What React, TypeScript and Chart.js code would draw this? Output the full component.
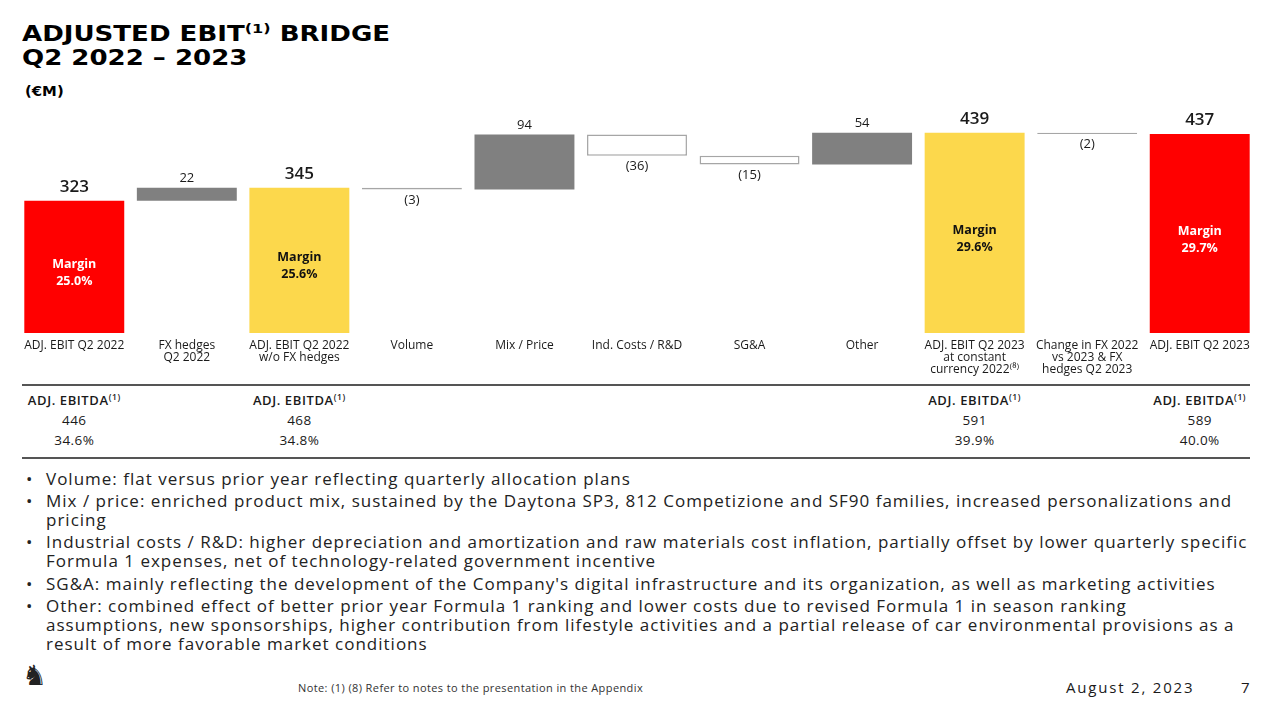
import React, { useEffect, useRef } from "react";
import { Chart, registerables } from "chart.js";

Chart.register(...registerables);

// ---------- data ----------
const categories: string[][] = [
  ["ADJ. EBIT Q2 2022"],
  ["FX hedges", "Q2 2022"],
  ["ADJ. EBIT Q2 2022", "w/o FX hedges"],
  ["Volume"],
  ["Mix / Price"],
  ["Ind. Costs / R&D"],
  ["SG&A"],
  ["Other"],
  ["ADJ. EBIT Q2 2023", "at constant", "currency 2022⁽⁸⁾"],
  ["Change in FX 2022", "vs 2023 & FX", "hedges Q2 2023"],
  ["ADJ. EBIT Q2 2023"],
];
const values = [323, 22, 345, -3, 94, -36, -15, 54, 439, -2, 437];
const kinds = ["total", "delta", "total", "delta", "delta", "delta", "delta", "delta", "total", "delta", "total"];
const totalFills = ["#FF0000", "", "#FCD84C", "", "", "", "", "", "#FCD84C", "", "#FF0000"];
const margins = ["25.0%", "", "25.6%", "", "", "", "", "", "29.6%", "", "29.7%"];

const ebitdaCols = [0, 2, 8, 10];
const ebitdaValues = ["446", "468", "591", "589"];
const ebitdaMargins = ["34.6%", "34.8%", "39.9%", "40.0%"];

const bullets: string[][] = [
  ["Volume: flat versus prior year reflecting quarterly allocation plans"],
  [
    "Mix / price: enriched product mix, sustained by the Daytona SP3, 812 Competizione and SF90 families, increased personalizations and",
    "pricing",
  ],
  [
    "Industrial costs / R&D: higher depreciation and amortization and raw materials cost inflation, partially offset by lower quarterly specific",
    "Formula 1 expenses, net of technology-related government incentive",
  ],
  ["SG&A: mainly reflecting the development of the Company's digital infrastructure and its organization, as well as marketing activities"],
  [
    "Other: combined effect of better prior year Formula 1 ranking and lower costs due to revised Formula 1 in season ranking",
    "assumptions, new sponsorships, higher contribution from lifestyle activities and a partial release of car environmental provisions as a",
    "result of more favorable market conditions",
  ],
];

const Y_MIN = 97;
const Y_MAX = 478;

const FONT = "'Open Sans', 'DejaVu Sans', sans-serif";
const TITLE_FONT = "'DejaVu Sans', sans-serif";

// geometry of the chart canvas (layout only)
const CANVAS_TOP = 100;
const CANVAS_H = 285;
const PAD_X = 18;
const X_AXIS_H = 52;

export default function App() {
  const canvasRef = useRef<HTMLCanvasElement | null>(null);

  useEffect(() => {
    const canvas = canvasRef.current;
    if (!canvas) return;

    let run = 0;
    const floating: [number, number][] = values.map((v, i) => {
      if (kinds[i] === "total") {
        run = v;
        return [0, v];
      }
      const start = run;
      run = run + v;
      return [start, run];
    });

    const bg = values.map((v, i) =>
      kinds[i] === "total" ? totalFills[i] : v >= 0 ? "#808080" : "#FFFFFF"
    );
    const border = values.map((v, i) =>
      kinds[i] === "total" ? totalFills[i] : v >= 0 ? "#808080" : "#A6A6A6"
    );
    const bw = values.map((v, i) => (kinds[i] === "delta" && v < 0 ? 1.5 : 0));

    const labelPlugin = {
      id: "wfLabels",
      afterDatasetsDraw(chart: any) {
        const ctx = chart.ctx as CanvasRenderingContext2D;
        const area = chart.chartArea;
        const meta = chart.getDatasetMeta(0);
        meta.data.forEach((bar: any, i: number) => {
          const p = bar.getProps(["x", "y", "base"], true);
          const top = Math.min(p.y, p.base);
          const bottom = Math.max(p.y, p.base);
          const v = values[i];
          ctx.save();
          ctx.textAlign = "center";
          if (kinds[i] === "total") {
            ctx.fillStyle = "#1a1a1a";
            ctx.font = `600 17px ${FONT}`;
            ctx.textBaseline = "bottom";
            ctx.fillText(String(v), p.x, top - 5);
            const visBottom = Math.min(bottom, area.bottom);
            const mid = (top + visBottom) / 2 + 6;
            const onRed = totalFills[i] === "#FF0000";
            ctx.fillStyle = onRed ? "#FFFFFF" : "#111111";
            ctx.font = `bold 12.5px ${FONT}`;
            ctx.textBaseline = "middle";
            ctx.fillText("Margin", p.x, mid - 8.5);
            ctx.fillText(margins[i], p.x, mid + 8.5);
          } else {
            ctx.fillStyle = "#1a1a1a";
            ctx.font = `13px ${FONT}`;
            if (v >= 0) {
              ctx.textBaseline = "bottom";
              ctx.fillText(String(v), p.x, top - 3);
            } else {
              ctx.textBaseline = "top";
              ctx.fillText(`(${-v})`, p.x, bottom + 4);
            }
          }
          ctx.restore();
        });
      },
    };

    const chart = new Chart(canvas, {
      type: "bar",
      data: {
        labels: categories,
        datasets: [
          {
            data: floating as any,
            backgroundColor: bg,
            borderColor: border,
            borderWidth: bw,
            borderSkipped: false,
            barPercentage: 0.888,
            categoryPercentage: 1,
            clip: 0 as any,
          },
        ],
      },
      options: {
        responsive: false,
        maintainAspectRatio: false,
        animation: false,
        layout: { padding: { left: PAD_X, right: PAD_X, top: 10, bottom: 0 } },
        plugins: {
          legend: { display: false },
          tooltip: { enabled: false },
          title: { display: false },
        },
        scales: {
          x: {
            grid: { display: false, drawTicks: false },
            border: { display: false },
            ticks: {
              color: "#1a1a1a",
              font: { family: FONT, size: 12, lineHeight: 1.0 },
              padding: 7,
              maxRotation: 0,
              autoSkip: false,
            },
            afterFit: (scale: any) => {
              scale.height = X_AXIS_H;
            },
          },
          y: {
            display: false,
            min: Y_MIN,
            max: Y_MAX,
          },
        },
      },
      plugins: [labelPlugin],
    });

    return () => chart.destroy();
  }, []);

  // bar centres for the EBITDA table (match chart slots)
  const slot = (1274 - 2 * PAD_X) / categories.length;
  const centre = (i: number) => PAD_X + slot * (i + 0.5);

  return (
    <div
      style={{
        position: "absolute",
        left: 0,
        top: 0,
        width: 1274,
        height: 716,
        background: "#ffffff",
        overflow: "hidden",
        fontFamily: FONT,
        color: "#1a1a1a",
      }}
    >
      <div
        style={{
          position: "absolute",
          left: 22,
          top: 22,
          fontFamily: TITLE_FONT,
          fontWeight: "bold",
          fontSize: 21,
          lineHeight: "24px",
          color: "#000",
          transform: "scaleX(1.24)",
          transformOrigin: "left top",
          whiteSpace: "nowrap",
        }}
      >
        <div>
          ADJUSTED EBIT<sup style={{ fontSize: 13, verticalAlign: "8px", lineHeight: 0 }}>(1)</sup> BRIDGE
        </div>
        <div>Q2 2022 – 2023</div>
      </div>
      <div
        style={{
          position: "absolute",
          left: 25,
          top: 83,
          fontFamily: TITLE_FONT,
          fontWeight: "bold",
          fontSize: 13.5,
          color: "#000",
          transform: "scaleX(1.1)",
          transformOrigin: "left top",
        }}
      >
        (€M)
      </div>

      <canvas
        ref={canvasRef}
        width={1274}
        height={CANVAS_H}
        style={{ position: "absolute", left: 0, top: CANVAS_TOP, width: 1274, height: CANVAS_H }}
      />

      {/* EBITDA table */}
      <div style={{ position: "absolute", left: 22, top: 384, width: 1228, height: 2, background: "#555" }} />
      <div style={{ position: "absolute", left: 22, top: 457, width: 1228, height: 2, background: "#555" }} />
      {ebitdaCols.map((c, k) => (
        <div
          key={c}
          style={{
            position: "absolute",
            left: centre(c) - 60,
            width: 120,
            top: 390,
            textAlign: "center",
            fontSize: 13.5,
          }}
        >
          <div style={{ fontWeight: 600, fontSize: 13, lineHeight: "20px", letterSpacing: 0.6 }}>
            ADJ. EBITDA<sup style={{ fontSize: 8.5, verticalAlign: "5px", lineHeight: 0 }}>(1)</sup>
          </div>
          <div style={{ lineHeight: "20px", letterSpacing: 0.4 }}>{ebitdaValues[k]}</div>
          <div style={{ lineHeight: "20px", letterSpacing: 0.4 }}>{ebitdaMargins[k]}</div>
        </div>
      ))}

      {/* bullets */}
      <div style={{ position: "absolute", left: 26, top: 469, fontSize: 17, letterSpacing: 1.0, color: "#222" }}>
        {bullets.map((lines, i) => (
          <div key={i} style={{ position: "relative", paddingLeft: 20, marginBottom: 3.2 }}>
            <span style={{ position: "absolute", left: 0, top: 0, lineHeight: "19px" }}>•</span>
            {lines.map((l, j) => (
              <div key={j} style={{ lineHeight: "19px", whiteSpace: "nowrap" }}>
                {l}
              </div>
            ))}
          </div>
        ))}
      </div>

      {/* footer */}
      <div style={{ position: "absolute", left: 22, top: 660, fontSize: 28, fontFamily: "'DejaVu Sans'", color: "#222", lineHeight: "32px" }}>
        ♞
      </div>
      <div style={{ position: "absolute", left: 298, top: 680, fontSize: 11, letterSpacing: 0.4, color: "#333" }}>
        Note: (1) (8) Refer to notes to the presentation in the Appendix
      </div>
      <div style={{ position: "absolute", left: 1066, top: 677, fontSize: 15, letterSpacing: 1.8, color: "#1a1a1a" }}>
        August 2, 2023
      </div>
      <div style={{ position: "absolute", left: 1241, top: 677, fontSize: 15, color: "#1a1a1a" }}>7</div>
    </div>
  );
}
